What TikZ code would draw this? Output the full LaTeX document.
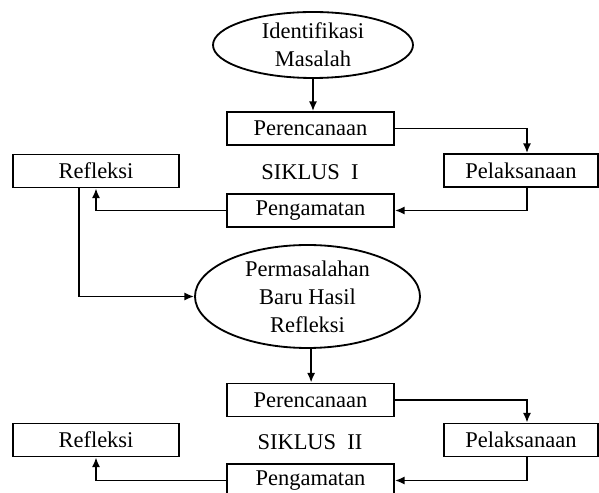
\documentclass[tikz,border=0pt]{standalone}
\usepackage{fontspec}
\setmainfont{Liberation Serif}
\usetikzlibrary{shapes.geometric,arrows.meta}

\begin{document}
\begin{tikzpicture}[
    kotak/.style={draw, line width=1.3pt, minimum width=4.175cm, minimum height=0.825cm, inner sep=0pt},
    elips/.style={draw, ellipse, line width=1.3pt, inner sep=0pt, align=center},
    panah/.style={line width=1.2pt, -{Latex[length=2.4mm,width=2mm]}},
    font=\fontsize{16}{20}\selectfont]
    \useasboundingbox (0,0) rectangle (14.975,12.325);

    % Siklus I
    \node[elips, minimum width=5cm, minimum height=1.65cm] (idm) at (7.825, 11.2) {Identifikasi\\Masalah};
    \node[kotak] (ren1) at (7.7625, 9.1125) {Perencanaan};
    \node[kotak, minimum width=3.85cm] (lak1) at (13.025, 8.0625) {Pelaksanaan};
    \node[kotak, minimum width=4.15cm] (ref1) at (2.4, 8.05) {Refleksi};
    \node (sik1) at (7.75, 8.025) {SIKLUS\ \ I};
    \node[kotak] (ama1) at (7.7625, 7.0625) {Pengamatan};

    \draw[panah] (idm.south) -- (idm.south |- ren1.north);
    \draw[panah] (ren1.east) -| ([xshift=0.15cm]lak1.north);
    \draw[panah] ([xshift=0.15cm]lak1.south) |- (ama1.east);
    \draw[panah] (ama1.west) -| (ref1.south);

    % Permasalahan baru
    \node[elips, minimum width=5.625cm, minimum height=2.575cm] (pbr) at (7.6875, 4.9125) {Permasalahan\\Baru Hasil\\Refleksi};
    \draw[panah] ([xshift=-0.425cm]ref1.south) |- (pbr.west);

    % Siklus II
    \node[kotak] (ren2) at (7.7625, 2.325) {Perencanaan};
    \node[kotak, minimum width=3.85cm] (lak2) at (13.025, 1.325) {Pelaksanaan};
    \node[kotak, minimum width=4.15cm] (ref2) at (2.4, 1.325) {Refleksi};
    \node (sik2) at (7.75, 1.275) {SIKLUS\ \ II};
    \node[kotak] (ama2) at (7.7625, 0.3125) {Pengamatan};

    \draw[panah] ([xshift=0.09cm]pbr.south) -- ([xshift=0.09cm]pbr.south |- ren2.north);
    \draw[panah] (ren2.east) -| ([xshift=0.15cm]lak2.north);
    \draw[panah] ([xshift=0.15cm]lak2.south) |- (ama2.east);
    \draw[panah] (ama2.west) -| (ref2.south);
\end{tikzpicture}
\end{document}
